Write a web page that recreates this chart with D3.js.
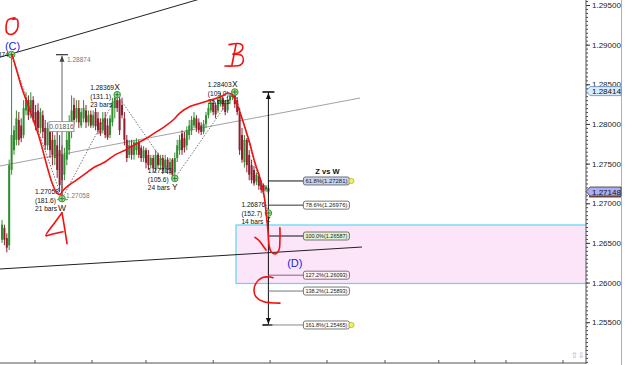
<!DOCTYPE html>
<html><head><meta charset="utf-8">
<script src="https://cdn.jsdelivr.net/npm/d3@7"></script>
<style>html,body{margin:0;padding:0;background:#fff;overflow:hidden}svg{display:block}</style>
</head><body>
<svg id="c" width="625" height="365"></svg>
<script>
// ---- DATA ----
const opens  = [1.2654,1.2669,1.2656,1.2647,1.2742,1.2767,1.2780,1.2805,1.2798,1.2786,1.2817,1.2830,1.2815,1.2830,1.2815,1.2817,1.2795,1.2811,1.2795,1.2773,1.2792,1.2780,1.2757,1.2773,1.2767,1.2761,1.2736,1.2755,1.2767,1.2792,1.2824,1.2807,1.2820,1.2798,1.2807,1.2817,1.2802,1.2812,1.2798,1.2815,1.2807,1.2802,1.2792,1.2807,1.2798,1.2786,1.2802,1.2820,1.2830,1.2830,1.2824,1.2807,1.2780,1.2761,1.2773,1.2761,1.2767,1.2776,1.2770,1.2757,1.2767,1.2761,1.2748,1.2757,1.2744,1.2761,1.2748,1.2757,1.2744,1.2755,1.2742,1.2755,1.2739,1.2757,1.2767,1.2788,1.2782,1.2773,1.2786,1.2792,1.2798,1.2807,1.2802,1.2798,1.2790,1.2800,1.2811,1.2817,1.2826,1.2824,1.2817,1.2827,1.2833,1.2826,1.2817,1.2830,1.2834,1.2836,1.2830,1.2815,1.2786,1.2752,1.2780,1.2761,1.2748,1.2742,1.2727,1.2734,1.2727,1.2723,1.2717,1.2719];
const highs  = [1.2679,1.2673,1.2662,1.2755,1.28874,1.2798,1.2817,1.2815,1.2807,1.2830,1.2840,1.2836,1.2840,1.2835,1.2824,1.2826,1.2820,1.2817,1.2805,1.2802,1.2798,1.2792,1.2786,1.2798,1.2786,1.2773,1.2770,1.2792,1.2811,1.2836,1.2833,1.2830,1.2830,1.2820,1.2830,1.2824,1.2817,1.2817,1.2817,1.2820,1.2815,1.2807,1.2815,1.2815,1.2807,1.2811,1.2833,1.2835,1.28369,1.2835,1.2833,1.2815,1.2786,1.2780,1.2780,1.2780,1.2782,1.2780,1.2773,1.2772,1.2770,1.2767,1.2761,1.2761,1.2767,1.2764,1.2761,1.2761,1.2761,1.2758,1.2757,1.2757,1.2764,1.2780,1.2786,1.2792,1.2790,1.2797,1.2805,1.2810,1.2815,1.2811,1.2807,1.2802,1.2805,1.2815,1.2825,1.2831,1.2830,1.2827,1.2835,1.2839,1.2836,1.2830,1.2835,1.2838,1.2839,1.28403,1.2834,1.2820,1.2795,1.2786,1.2782,1.2767,1.2755,1.2747,1.2739,1.2738,1.2729,1.2725,1.2723,1.2722];
const lows   = [1.2650,1.2647,1.2638,1.2641,1.2736,1.2761,1.2773,1.2773,1.2777,1.2782,1.2811,1.2805,1.2807,1.2802,1.2792,1.2790,1.2788,1.2782,1.2767,1.2767,1.2757,1.2748,1.2748,1.2732,1.2714,1.27058,1.2729,1.2748,1.2761,1.2782,1.2798,1.2802,1.2795,1.2795,1.2802,1.2795,1.2797,1.2795,1.2795,1.2792,1.2787,1.2785,1.2788,1.2782,1.2780,1.2782,1.2797,1.2807,1.2815,1.2786,1.2807,1.2773,1.2752,1.2757,1.2755,1.2755,1.2761,1.2757,1.2752,1.2752,1.2744,1.2742,1.2744,1.2739,1.2739,1.2744,1.2742,1.2737,1.2739,1.2737,1.2736,1.2732,1.27313,1.2752,1.2761,1.2761,1.2764,1.2767,1.2780,1.2786,1.2795,1.2790,1.2788,1.2786,1.2787,1.2795,1.2807,1.2814,1.2811,1.2807,1.2814,1.2822,1.2817,1.2811,1.2814,1.2825,1.2830,1.2820,1.2811,1.2761,1.2751,1.2745,1.2739,1.2729,1.2725,1.2722,1.2723,1.2717,1.2713,1.2711,1.2714,1.2712];
const closes = [1.2673,1.2654,1.2644,1.2748,1.2786,1.2792,1.2807,1.2780,1.2782,1.2820,1.2833,1.2811,1.2830,1.2807,1.2798,1.2795,1.2815,1.2790,1.2773,1.2795,1.2767,1.2761,1.2780,1.2742,1.2723,1.2729,1.2761,1.2780,1.2798,1.2817,1.2805,1.2820,1.2802,1.2815,1.2820,1.2802,1.2811,1.2798,1.2811,1.2797,1.2792,1.2788,1.2807,1.2786,1.2783,1.2807,1.2827,1.2833,1.2820,1.2792,1.2811,1.2780,1.2757,1.2773,1.2761,1.2777,1.2777,1.2761,1.2757,1.2767,1.2751,1.2748,1.2757,1.2744,1.2761,1.2748,1.2757,1.2742,1.2755,1.2742,1.2752,1.2736,1.2757,1.2773,1.2780,1.2767,1.2770,1.2792,1.2798,1.2805,1.2808,1.2795,1.2792,1.2790,1.2800,1.2811,1.2820,1.2827,1.2815,1.2812,1.2830,1.2835,1.2822,1.2815,1.2831,1.2836,1.2838,1.2825,1.2815,1.2767,1.2755,1.2780,1.2748,1.2736,1.2729,1.2725,1.2736,1.2722,1.2717,1.2715,1.2721,1.27148];

const waveNames  = ["C","W","X","Y","X","Z"];
const waveIdx    = [4,25,48,72,97,111];
const wavePrice  = [1.28874,1.27058,1.28369,1.27313,1.28403,1.26876];
const waveRatio  = ["","(181.6)","(131.1)","(105.6)","(109.0)","(152.7)"];
const waveBars   = ["","21 bars","23 bars","24 bars","25 bars","14 bars"];
const wavePeak   = [true,false,true,false,true,false];

const fibPct  = ["61.8%","78.6%","100.0%","127.2%","138.2%","161.8%"];
const fibVal  = [1.27281,1.26976,1.26587,1.26093,1.25893,1.25465];

const yTicks  = [1.255,1.26,1.265,1.27,1.275,1.28,1.285,1.29,1.295];
const xTicks  = [13.75,37.5,60,88,111.7,135.4,159.6,182,197,210,233.75];
const lastPrices = [1.28414,1.27148];

const zoneTop = 1.26726, zoneBottom = 1.25988, zoneStart = 97.5;
const trendTop   = [[-1,1.2884],[83,1.2958]];
const trendGray  = [[-0.83,1.2747],[149.2,1.28327]];
const trendLow   = [[-0.83,1.26171],[150,1.26448]];

const redWave = [[4.2,1.2887],[5.8,1.2871],[8.3,1.2845],[10.8,1.2824],[13.3,1.2803],[15.8,1.2780],[17.5,1.2761],[19.2,1.2742],[20.8,1.2726],[22.9,1.2713],[24.2,1.2711],[25.4,1.2716],[27.5,1.2722],[30.4,1.2728],[34.6,1.2737],[38.8,1.2746],[42.9,1.2752],[47.1,1.2761],[51.3,1.2767],[55.4,1.2774],[59.6,1.2781],[63.8,1.2789],[67.9,1.2797],[71.3,1.2805],[74.2,1.2814],[78.3,1.2822],[82.5,1.2826],[86.7,1.2830],[90.8,1.2834],[94.2,1.2839],[95.8,1.2837],[97.5,1.2828],[99.2,1.2814],[101.3,1.2795],[103.3,1.2775],[105.4,1.2751],[107.5,1.2732],[109.2,1.2710],[110,1.2689],[110.8,1.2666],[111.3,1.2647],[112.1,1.2639],[113.8,1.2636],[115.4,1.2641],[115.8,1.2654],[115.8,1.2669]];
const redCheck = [[105.4,1.2657],[107.1,1.2653],[108.8,1.2646],[110,1.2641]];
const redZero  = [[5.4,1.2934],[2.5,1.2931],[1.7,1.2922],[2.1,1.2915],[4.2,1.2913],[6.3,1.2919],[6.7,1.2927],[6.3,1.2932],[4.6,1.2932]];
const redA1 = [[25,1.2688],[22.1,1.2676],[18.3,1.2659],[20.8,1.2661],[25.4,1.2664]];
const redA2 = [[25,1.2688],[25.8,1.2674],[27.1,1.2649]];
const redB1 = [[94.6,1.2900],[99.2,1.2901],[100.4,1.2897],[99.2,1.2891],[96.3,1.2888]];
const redB2 = [[96.3,1.2888],[100,1.2886],[100.4,1.2878],[99.2,1.2874],[96.3,1.2873],[92.9,1.2873]];
const redB3 = [[97.5,1.2900],[95.8,1.2874]];
const redC  = [[112.9,1.2606],[111.7,1.2607],[108.3,1.2606],[105.8,1.2599],[105,1.2591],[105.8,1.2582],[108.8,1.2576],[115.8,1.2574]];
const labelD = [122,1.2620];

// ---- DRAW ----
const W = 625, H = 365, axisX = 586, bottomY = 363;
const FONT = "'Liberation Sans', Arial, sans-serif";
const svg = d3.select("#c");
const xs = d3.scaleLinear().domain([0,111]).range([2,268.4]);
const ys = d3.scaleLinear().domain([1.255,1.295]).range([322.2,5]);

svg.append("rect").attr("width",W).attr("height",H).attr("fill","#fff");
svg.append("defs").append("clipPath").attr("id","pc")
  .append("rect").attr("x",0).attr("y",0).attr("width",axisX).attr("height",bottomY);
const plot = svg.append("g").attr("clip-path","url(#pc)");

// zone
plot.append("rect")
  .attr("x",xs(zoneStart)).attr("y",ys(zoneTop))
  .attr("width",axisX - xs(zoneStart) + 5).attr("height",ys(zoneBottom)-ys(zoneTop))
  .attr("fill","#fce4f9").attr("stroke","#5fd6f2").attr("stroke-width",1.2);

// trend lines
const seg = (pts,color,w) => plot.append("line")
  .attr("x1",xs(pts[0][0])).attr("y1",ys(pts[0][1]))
  .attr("x2",xs(pts[1][0])).attr("y2",ys(pts[1][1]))
  .attr("stroke",color).attr("stroke-width",w);
seg(trendGray,"#8a8a8a",0.8);
seg(trendTop,"#222",1);
seg(trendLow,"#222",1);

// candles
const idx = d3.range(opens.length);
const up = i => closes[i] >= opens[i];
const cg = plot.append("g");
cg.selectAll("line").data(idx).join("line")
  .attr("x1",i=>xs(i)).attr("x2",i=>xs(i))
  .attr("y1",i=>ys(highs[i])).attr("y2",i=>ys(lows[i]))
  .attr("stroke",i=>up(i)?"#2f8f2f":"#8e1f2e").attr("stroke-width",1);
cg.selectAll("rect").data(idx).join("rect")
  .attr("x",i=>xs(i)-1).attr("width",2)
  .attr("y",i=>ys(Math.max(opens[i],closes[i])))
  .attr("height",i=>Math.max(1,Math.abs(ys(opens[i])-ys(closes[i]))))
  .attr("fill",i=>up(i)?"#2f8f2f":"#8e1f2e");

// zigzag dotted
plot.append("path")
  .attr("d",d3.line()(waveIdx.map((d,i)=>[xs(d),ys(wavePrice[i])])))
  .attr("fill","none").attr("stroke","#555").attr("stroke-width",0.8).attr("stroke-dasharray","1.5,1.5");

// measurement arrow W -> C
const mx = xs(waveIdx[1]), mTop = ys(wavePrice[0]), mBot = ys(wavePrice[1]);
plot.append("line").attr("x1",mx).attr("x2",mx).attr("y1",mTop+1).attr("y2",mBot)
  .attr("stroke","#666").attr("stroke-width",1);
plot.append("line").attr("x1",mx-6).attr("x2",mx+6).attr("y1",mTop).attr("y2",mTop)
  .attr("stroke","#444").attr("stroke-width",1.3);
plot.append("path").attr("d",`M${mx},${mTop+1}L${mx-2.5},${mTop+7}L${mx+2.5},${mTop+7}Z`).attr("fill","#444");
plot.append("line").attr("x1",mx-5).attr("x2",mx+6).attr("y1",mBot+1).attr("y2",mBot+1)
  .attr("stroke","#666").attr("stroke-width",0.8);
plot.append("text").attr("x",mx+5).attr("y",mTop+7).text(d3.format(".5f")(wavePrice[0]))
  .attr("font-family",FONT).attr("font-size",6.5).attr("fill","#777");
plot.append("text").attr("x",mx+4).attr("y",mBot-1).text(d3.format(".5f")(wavePrice[1]))
  .attr("font-family",FONT).attr("font-size",6.5).attr("fill","#777");
const mMid = ys((wavePrice[0]+wavePrice[1])/2);
plot.append("rect").attr("x",mx-13).attr("y",mMid-5).attr("width",25).attr("height",10)
  .attr("fill","#fff").attr("stroke","#888").attr("stroke-width",0.8);
plot.append("text").attr("x",mx-0.5).attr("y",mMid+2.5).attr("text-anchor","middle")
  .text(d3.format(".5f")(wavePrice[0]-wavePrice[1]))
  .attr("font-family",FONT).attr("font-size",6.8).attr("fill","#555");

// fib projection
const zx = xs(waveIdx[5]);
const fTop = ys(wavePrice[4]), fBot = ys(fibVal[5]);
const boxX = zx + 35, boxW = 46;
plot.append("line").attr("x1",zx).attr("x2",zx).attr("y1",fTop).attr("y2",fBot).attr("stroke","#111").attr("stroke-width",1);
plot.append("line").attr("x1",zx-6).attr("x2",zx+6).attr("y1",fTop).attr("y2",fTop).attr("stroke","#111").attr("stroke-width",1.6);
plot.append("path").attr("d",`M${zx},${fTop+1}L${zx-2.5},${fTop+7}L${zx+2.5},${fTop+7}Z`).attr("fill","#111");
plot.append("line").attr("x1",zx-6).attr("x2",zx+4).attr("y1",fBot).attr("y2",fBot).attr("stroke","#111").attr("stroke-width",1.6);
plot.append("path").attr("d",`M${zx},${fBot-1}L${zx-2.5},${fBot-7}L${zx+2.5},${fBot-7}Z`).attr("fill","#111");
const fibFill = ["#c9d3f0","#ffffff","#e0f1d4","#fbf3fb","#ffffff","#ffffff"];
const fibLine = ["#111","#333","#111","#7a6a80","#777","#888"];
fibVal.forEach((v,i)=>{
  const y = ys(v);
  plot.append("line").attr("x1",zx).attr("x2",boxX).attr("y1",y).attr("y2",y).attr("stroke",fibLine[i]).attr("stroke-width",1);
  plot.append("rect").attr("x",boxX).attr("y",y-4).attr("width",boxW).attr("height",8).attr("rx",2)
    .attr("fill",fibFill[i]).attr("stroke","#555").attr("stroke-width",0.8);
  plot.append("text").attr("x",boxX+2).attr("y",y+2.2).text(`${fibPct[i]}(${d3.format(".5f")(v)})`)
    .attr("font-family",FONT).attr("font-size",5.8).attr("fill","#222")
    .attr("textLength",boxW-4).attr("lengthAdjust","spacingAndGlyphs");
  if (i===0 || i===5) plot.append("circle").attr("cx",boxX+boxW+2).attr("cy",y).attr("r",2.6)
    .attr("fill","#f2f25a").attr("stroke","#a9a930").attr("stroke-width",0.7);
});
plot.append("text").attr("x",boxX+24).attr("y",ys(fibVal[0])-7).attr("text-anchor","middle").text("Z vs W")
  .attr("font-family",FONT).attr("font-size",7.5).attr("font-weight","bold").attr("fill","#111");

// wave markers + labels
waveIdx.forEach((d,i)=>{
  const x = xs(d), y = ys(wavePrice[i]);
  if (i>0) {
    const lines = [d3.format(".5f")(wavePrice[i]), waveRatio[i], waveBars[i]];
    const dy = i===5 ? [-6,3,11] : [-5,4,12];
    lines.forEach((t,k)=> plot.append("text").attr("x",x-27).attr("y",y+dy[k]).text(t)
      .attr("font-family",FONT).attr("font-size",6.6).attr("fill","#111"));
    plot.append("text").attr("x",x).attr("y",y+(wavePeak[i]?-5:(i===5?9:12))).attr("text-anchor","middle")
      .text(waveNames[i]).attr("font-family",FONT).attr("font-size",i===5?7:8.5).attr("fill","#222");
  }
  plot.append("circle").attr("cx",x).attr("cy",y).attr("r",3.3).attr("fill","#9ee09a").attr("stroke","#2d8f2d").attr("stroke-width",0.9);
  plot.append("path").attr("d",`M${x-2.5},${y}H${x+2.5}M${x},${y-2.5}V${y+2.5}`).attr("stroke","#1f6f1f").attr("stroke-width",0.8);
});
// C label + clipped price on left edge
plot.append("text").attr("x",xs(waveIdx[0])+1).attr("y",ys(wavePrice[0])-5).attr("text-anchor","middle").text("(C)")
  .attr("font-family",FONT).attr("font-size",11).attr("fill","#1a1ae6");
plot.append("text").attr("x",xs(waveIdx[0])-3).attr("y",ys(wavePrice[0])+2).attr("text-anchor","end")
  .text(d3.format(".5f")(wavePrice[0])).attr("font-family",FONT).attr("font-size",6.5).attr("fill","#111");
plot.append("text").attr("x",xs(labelD[0])).attr("y",ys(labelD[1])).attr("text-anchor","middle").text("(D)")
  .attr("font-family",FONT).attr("font-size",11).attr("fill","#1a1ae6");

// red hand annotations
const rl = d3.line().x(d=>xs(d[0])).y(d=>ys(d[1])).curve(d3.curveCatmullRom.alpha(0.5));
[redWave,redCheck,redZero,redA1,redA2,redB1,redB2,redB3,redC].forEach(p=>{
  plot.append("path").attr("d",rl(p)).attr("fill","none").attr("stroke","#f21010")
    .attr("stroke-width",1.6).attr("stroke-linecap","round").attr("stroke-linejoin","round");
});

// right axis
const ax = svg.append("g").attr("transform",`translate(${axisX},0)`);
ax.call(d3.axisRight(ys).tickValues(d3.range(1.2500,1.2956,0.0005)).tickSize(2).tickFormat(""))
  .call(g=>g.select(".domain").remove())
  .call(g=>g.selectAll("line").attr("stroke","#444"));
const ax2 = svg.append("g").attr("transform",`translate(${axisX},0)`);
ax2.call(d3.axisRight(ys).tickValues(yTicks).tickSize(4).tickPadding(2).tickFormat(d3.format(".5f")))
  .call(g=>g.select(".domain").remove())
  .call(g=>g.selectAll("line").attr("stroke","#333"))
  .call(g=>g.selectAll("text").attr("font-family",FONT).attr("font-size",8).attr("fill","#222"));
svg.append("line").attr("x1",axisX).attr("x2",axisX).attr("y1",0).attr("y2",bottomY+1).attr("stroke","#555").attr("stroke-width",1);
svg.append("line").attr("x1",621.5).attr("x2",621.5).attr("y1",0).attr("y2",H).attr("stroke","#b0b0b0").attr("stroke-width",1);

// last price tags
const tagFill = ["#d9ecfa","#a9aef5"], tagStroke = ["#5e8fbf","#333"];
lastPrices.forEach((p,i)=>{
  const y = ys(p);
  if (i===1) svg.append("rect").attr("x",axisX+3).attr("y",y+4.5).attr("width",32).attr("height",1.5).attr("fill","#8a4a3a");
  svg.append("path").attr("d",`M${axisX},${y}L${axisX+4},${y-4.5}H${axisX+35}V${y+4.5}H${axisX+4}Z`)
    .attr("fill",tagFill[i]).attr("stroke",tagStroke[i]).attr("stroke-width",0.8);
  svg.append("text").attr("x",axisX+6).attr("y",y+3).text(d3.format(".5f")(p))
    .attr("font-family",FONT).attr("font-size",8).attr("fill","#111");
});

// bottom axis
svg.append("line").attr("x1",0).attr("x2",axisX).attr("y1",bottomY).attr("y2",bottomY).attr("stroke","#555").attr("stroke-width",1);
svg.selectAll(".xt").data(xTicks).join("line").attr("class","xt")
  .attr("x1",d=>xs(d)).attr("x2",d=>xs(d)).attr("y1",bottomY).attr("y2",bottomY-3)
  .attr("stroke","#555").attr("stroke-width",1);
svg.append("text").attr("x",axisX-15).attr("y",bottomY-5).text("\u21E7\u21E9")
  .attr("font-family","'DejaVu Sans', sans-serif").attr("font-size",8).attr("fill","#aaa");
</script>
</body></html>
